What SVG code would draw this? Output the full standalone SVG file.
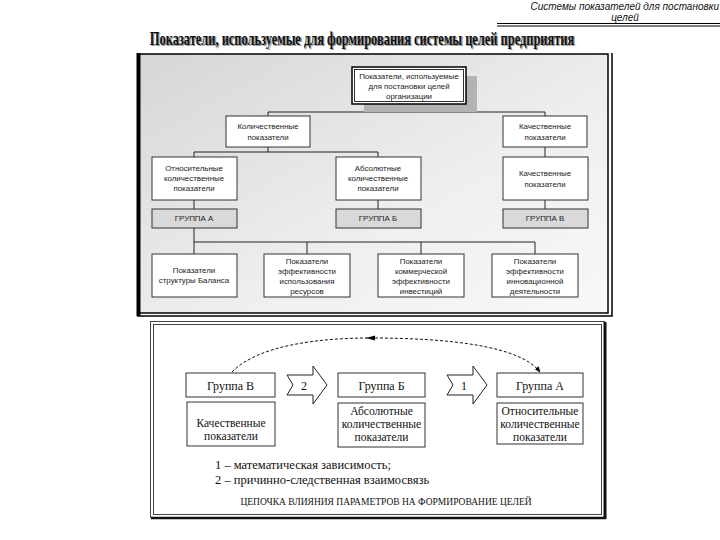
<svg xmlns="http://www.w3.org/2000/svg" width="720" height="540" viewBox="0 0 720 540">
<defs>
<linearGradient id="bg" x1="0" y1="0" x2="1" y2="1">
<stop offset="0" stop-color="#d6d6d6"/>
<stop offset="0.6" stop-color="#efefef"/>
<stop offset="1" stop-color="#f8f8f8"/>
</linearGradient>
<marker id="ah" viewBox="0 0 10 10" refX="9" refY="5" markerWidth="6" markerHeight="6" orient="auto"><path d="M0,1 L10,5 L0,9 z" fill="#000"/></marker>
<style>
.s{font-family:"Liberation Sans",Arial,sans-serif;font-size:7.9px;fill:#222;text-anchor:middle}
.t{font-family:"Liberation Serif","Times New Roman",serif;fill:#111;text-anchor:middle}
.box{fill:#fff;stroke:#333;stroke-width:1}
.grp{fill:#d9d9d9;stroke:#333;stroke-width:1}
.ln{fill:none;stroke:#222;stroke-width:1}
.lb{fill:#fff;stroke:#333;stroke-width:1}
.arr{fill:#fff;stroke:#222;stroke-width:1}
.ttl{font-family:"Liberation Serif","Times New Roman",serif;font-size:18.5px;font-weight:bold;text-anchor:middle}
</style>
</defs>
<rect width="720" height="540" fill="#fff"/>
<!-- header -->
<g id="header">
<text x="719" y="10" font-family="Liberation Sans,Arial,sans-serif" font-size="10" font-style="italic" text-anchor="end" fill="#111">Системы показателей для постановки</text>
<text x="625" y="20.5" font-family="Liberation Sans,Arial,sans-serif" font-size="10" font-style="italic" text-anchor="middle" fill="#111">целей</text>
<line x1="497" y1="23.5" x2="720" y2="23.5" stroke="#000" stroke-width="1"/>
<line x1="497" y1="26" x2="720" y2="26" stroke="#000" stroke-width="1"/>
</g>
<g id="title">
<text class="ttl" transform="translate(363.3,46.3) scale(0.672,1)" fill="#999">Показатели, используемые для формирования системы целей предприятия</text>
<text class="ttl" transform="translate(362,45) scale(0.672,1)" fill="#111">Показатели, используемые для формирования системы целей предприятия</text>
</g>
<!-- upper frame -->
<g id="frame1">
<rect x="139" y="54" width="469" height="259" fill="url(#bg)" stroke="#000" stroke-width="1.5"/>
<line x1="138.5" y1="53" x2="138.5" y2="316" stroke="#000" stroke-width="4"/>
<polyline points="612,53 612,316 137,316" fill="none" stroke="#000" stroke-width="1.5"/>
</g>
<!-- connectors upper -->
<g id="connectors1">
<polyline class="ln" points="409,103 409,112"/>
<polyline class="ln" points="268,116 268,112 545,112 545,116"/>
<polyline class="ln" points="268,147 268,152"/>
<polyline class="ln" points="194,157 194,152 378,152 378,157"/>
<polyline class="ln" points="545,147 545,157"/>
<polyline class="ln" points="194,200 194,209"/>
<polyline class="ln" points="378,200 378,209"/>
<polyline class="ln" points="545,200 545,209"/>
<polyline class="ln" points="194,228 194,254"/>
<polyline class="ln" points="194,242 535,242 535,254"/>
<polyline class="ln" points="307,242 307,254"/>
<polyline class="ln" points="421,242 421,254" stroke="#888"/>
</g>
<g id="root">
<rect x="364" y="76" width="113" height="36" fill="#b3b3b3"/>
<rect x="352" y="67" width="114" height="37" fill="#fff" stroke="#000" stroke-width="1.5"/>
<rect x="354.5" y="69.5" width="109" height="32" fill="none" stroke="#000" stroke-width="0.8"/>
<text class="s" x="409" y="79">Показатели, используемые</text>
<text class="s" x="409" y="89">для постановки целей</text>
<text class="s" x="409" y="99">организации</text>
</g>
<g id="quant">
<rect class="box" x="226" y="116" width="84" height="31"/>
<text class="s" x="268" y="129">Количественные</text>
<text class="s" x="268" y="140">показатели</text>
</g>
<g id="qual">
<rect class="box" x="503" y="116" width="84" height="31"/>
<text class="s" x="545" y="129">Качественные</text>
<text class="s" x="545" y="140">показатели</text>
</g>
<g id="rel">
<rect class="box" x="152" y="157" width="85" height="43"/>
<text class="s" x="194" y="171">Относительные</text>
<text class="s" x="194" y="181">количественные</text>
<text class="s" x="194" y="191">показатели</text>
</g>
<g id="abs">
<rect class="box" x="336" y="157" width="85" height="43"/>
<text class="s" x="378" y="171">Абсолютные</text>
<text class="s" x="378" y="181">количественные</text>
<text class="s" x="378" y="191">показатели</text>
</g>
<g id="qual2">
<rect class="box" x="503" y="157" width="85" height="43"/>
<text class="s" x="545" y="176">Качественные</text>
<text class="s" x="545" y="187">показатели</text>
</g>
<g id="grpA"><rect class="grp" x="152" y="209" width="85" height="19"/><text class="s" x="194" y="221">ГРУППА А</text></g>
<g id="grpB"><rect class="grp" x="336" y="209" width="85" height="19"/><text class="s" x="378" y="221">ГРУППА Б</text></g>
<g id="grpV"><rect class="grp" x="503" y="209" width="85" height="19"/><text class="s" x="545" y="221">ГРУППА В</text></g>
<g id="b1">
<rect class="box" x="152" y="254" width="85" height="43"/>
<text class="s" x="194" y="273">Показатели</text>
<text class="s" x="194" y="283">структуры Баланса</text>
</g>
<g id="b2">
<rect class="box" x="264" y="254" width="86" height="43"/>
<text class="s" x="307" y="264">Показатели</text>
<text class="s" x="307" y="274">эффективности</text>
<text class="s" x="307" y="284">использования</text>
<text class="s" x="307" y="294">ресурсов</text>
</g>
<g id="b3">
<rect class="box" x="378" y="254" width="86" height="43"/>
<text class="s" x="421" y="264">Показатели</text>
<text class="s" x="421" y="274">коммерческой</text>
<text class="s" x="421" y="284">эффективности</text>
<text class="s" x="421" y="294">инвестиций</text>
</g>
<g id="b4">
<rect class="box" x="492" y="254" width="86" height="43"/>
<text class="s" x="535" y="264">Показатели</text>
<text class="s" x="535" y="274">эффективности</text>
<text class="s" x="535" y="284">инновационной</text>
<text class="s" x="535" y="294">деятельности</text>
</g>
<!-- lower frame -->
<g id="frame2">
<rect x="150.5" y="321.5" width="454" height="196" fill="#fff" stroke="#444" stroke-width="1"/>
<rect x="153.5" y="324.5" width="448" height="190" fill="none" stroke="#444" stroke-width="1"/>
<line x1="605" y1="322" x2="605" y2="519" stroke="#111" stroke-width="3"/>
<line x1="151" y1="518" x2="606" y2="518" stroke="#111" stroke-width="2.5"/>
</g>
<g id="connectors2">
<path d="M232,372 C258,345 320,338 370,338 C450,338 520,346 540,372" fill="none" stroke="#111" stroke-width="1" stroke-dasharray="3,2" marker-end="url(#ah)"/>
<path d="M375,335.5 L366,338 L375,340.5 z" fill="#000"/>
<g id="arrow2">
<polygon class="arr" points="287,375 313,375 313,366 327,385 313,404 313,395 287,395 293,385"/>
<text class="t" x="304" y="389.5" font-size="12">2</text>
</g>
<g id="arrow1">
<polygon class="arr" points="447,375 473,375 473,366 487,385 473,404 473,395 447,395 453,385"/>
<text class="t" x="464" y="389.5" font-size="12">1</text>
</g>
</g>
<g id="gV">
<rect class="lb" x="186" y="373" width="89" height="24"/>
<text class="t" x="230.5" y="389.5" font-size="12">Группа В</text>
</g>
<g id="gB">
<rect class="lb" x="338" y="373" width="87" height="24"/>
<text class="t" x="381.5" y="389.5" font-size="12">Группа Б</text>
</g>
<g id="gA">
<rect class="lb" x="497" y="373" width="86" height="24"/>
<text class="t" x="540" y="389.5" font-size="12">Группа А</text>
</g>
<g id="lV">
<rect class="lb" x="187" y="402" width="88" height="44"/>
<text class="t" x="231" y="427" font-size="11.5">Качественные</text>
<text class="t" x="231" y="440" font-size="11.5">показатели</text>
</g>
<g id="lB">
<rect class="lb" x="338" y="403" width="87" height="44"/>
<text class="t" x="381.5" y="415" font-size="11.5">Абсолютные</text>
<text class="t" x="381.5" y="428" font-size="11.5">количественные</text>
<text class="t" x="381.5" y="441" font-size="11.5">показатели</text>
</g>
<g id="lA">
<rect class="lb" x="497" y="403" width="86" height="41"/>
<text class="t" x="540" y="415" font-size="11.5">Относительные</text>
<text class="t" x="540" y="428" font-size="11.5">количественные</text>
<text class="t" x="540" y="441" font-size="11.5">показатели</text>
</g>
<g id="legend">
<text x="215" y="469" font-family="Liberation Serif,Times New Roman,serif" font-size="12.5" fill="#111">1 – математическая зависимость;</text>
<text x="215" y="484" font-family="Liberation Serif,Times New Roman,serif" font-size="12.5" fill="#111">2 – причинно-следственная взаимосвязь</text>
<text x="386" y="505" font-family="Liberation Serif,Times New Roman,serif" font-size="9.5" text-anchor="middle" fill="#111">ЦЕПОЧКА ВЛИЯНИЯ ПАРАМЕТРОВ НА ФОРМИРОВАНИЕ ЦЕЛЕЙ</text>
</g>
</svg>
